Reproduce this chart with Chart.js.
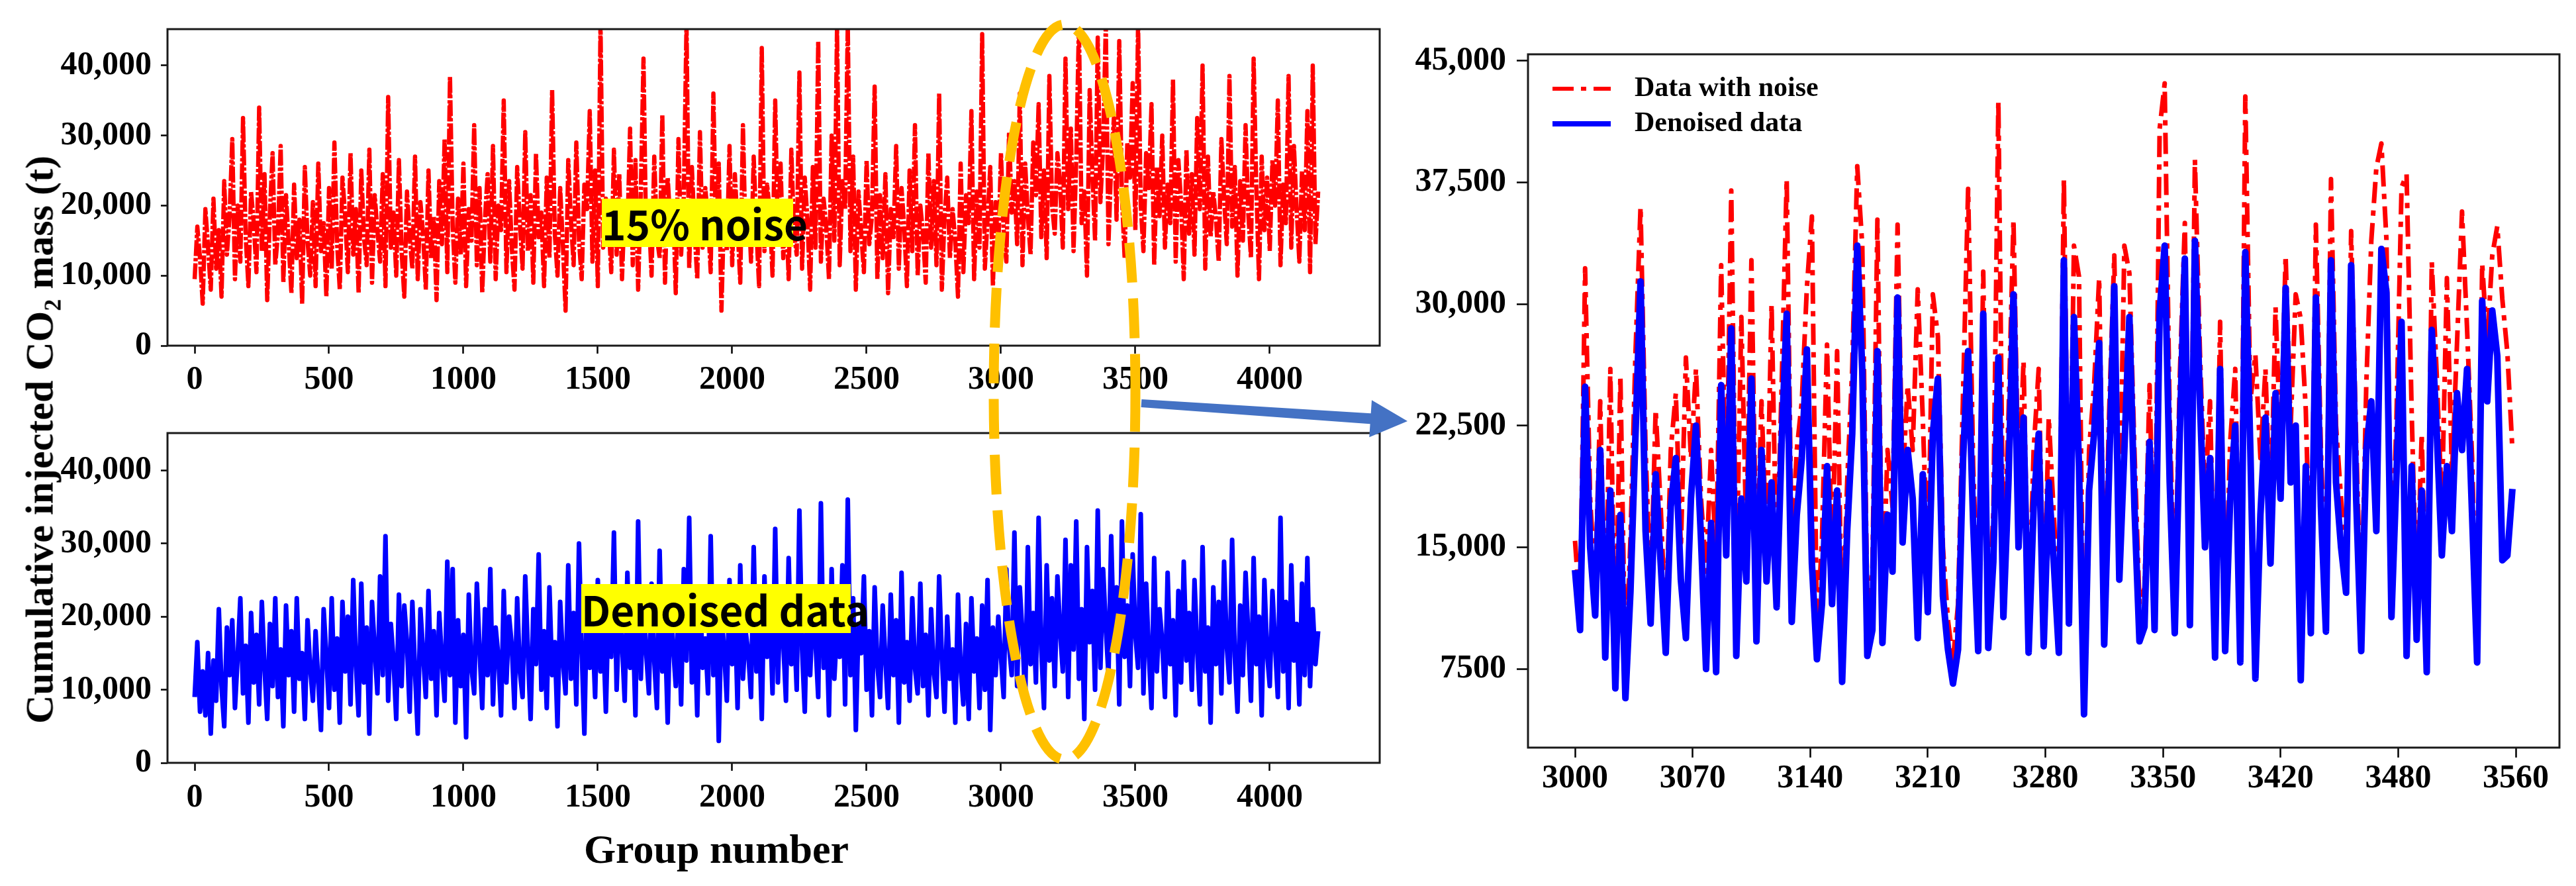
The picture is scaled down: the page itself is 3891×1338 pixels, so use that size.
<!DOCTYPE html>
<html>
<head>
<meta charset="utf-8">
<title>Cumulative injected CO2 mass - noisy vs denoised</title>
<script src="https://cdn.jsdelivr.net/npm/chart.js@4.4.1/dist/chart.umd.min.js"></script>
<style>
  html, body { margin: 0; padding: 0; background: #fff; }
  #page { position: relative; width: 3891px; height: 1338px; overflow: hidden; background: #fff; }
  canvas { position: absolute; }
  .tag {
    position: absolute; background: #ffff00; color: #000; text-align: center; white-space: nowrap;
    font-family: 'Noto Sans CJK SC', 'Noto Sans', sans-serif; font-weight: 700; font-size: 62px;
  }
  .axis-title {
    position: absolute; color: #000; white-space: nowrap; font-weight: 700;
    font-family: 'Liberation Serif', 'Times New Roman', serif;
  }
</style>
</head>
<body>
<div id="page">
  <canvas id="noisyChart" width="2100" height="620" style="left:0;top:0"></canvas>
  <canvas id="denoisedChart" width="2100" height="640" style="left:0;top:610px"></canvas>
  <canvas id="zoomChart" width="1781" height="1338" style="left:2110px;top:0"></canvas>
  <div class="tag" style="left:909px;top:300px;width:289px;height:73px;line-height:73px">15% noise</div>
  <div class="tag" style="left:878px;top:882px;width:407px;height:74px;line-height:74px">Denoised data</div>
  <div class="axis-title" style="left:60px;top:664px;font-size:60px;transform:translate(-50%,-50%) rotate(-90deg)">Cumulative injected CO₂ mass (t)</div>
  <div class="axis-title" style="left:1082px;top:1282px;font-size:62px;transform:translate(-50%,-50%)">Group number</div>
  <canvas id="overlay" width="3891" height="1338" style="left:0;top:0;pointer-events:none"></canvas>
</div>

<script>
// ---- data (tonnes) ----
// left panels: one value every 10 groups, groups 0..4180
const leftGroupStep = 10;
const noisyMass = [
  9500, 17000, 12500, 6000, 19500, 14000, 8000, 21000, 11000, 16500,
  7000, 23500, 13000, 18500, 29500, 9500, 20000, 12000, 32500, 15500,
  8500, 22000, 17500, 10500, 34000, 13500, 24500, 6500, 19000, 27500,
  11500, 16000, 28500, 9000, 21500, 14500, 7500, 23000, 12500, 18000,
  6000, 25500, 15000, 10000, 20500, 8500, 26000, 13500, 17500, 7000,
  22500, 11000, 29000, 14500, 8000, 24000, 18500, 10500, 27500, 13000,
  19500, 7500, 25000, 15500, 11500, 28000, 9000, 21500, 16500, 12000,
  24500, 8500, 35500, 14000, 19000, 10000, 26500, 13500, 7000, 22000,
  15500, 11000, 27000, 9500, 20500, 16000, 8000, 25000, 12500, 18500,
  6500, 23500, 14500, 29500, 10500, 38500, 17000, 9000, 21000, 13000,
  26000, 8500, 19500, 15000, 31500, 11500, 22500, 7500, 18000, 24500,
  12000, 28500, 9500, 20000, 16500, 35000, 10500, 23500, 14000, 8000,
  25500, 17500, 11000, 30500, 13500, 21500, 9000, 27500, 15500, 19000,
  8500, 24000, 12500, 36500, 16000, 10000, 22500, 14500, 5000, 26500,
  18000, 11500, 29000, 15000, 9500, 23000, 19500, 33500, 12000, 25000,
  8500, 46000, 14000, 21000, 17500, 10500, 28000, 13000, 24500, 9500,
  20500, 16000, 31000, 11500, 26500, 8000, 22000, 41000, 14500, 18500,
  10000, 27000, 15500, 12500, 33000, 9000, 24000, 17500, 20500, 7500,
  29500, 13000, 21500, 46000, 11000, 25500, 16500, 9500, 30500, 14000,
  22500, 18000, 10500, 36000, 15000, 26000, 5000, 20000, 13500, 28500,
  11500, 24500, 17000, 9000, 31500, 14500, 21000, 12000, 27000, 16500,
  8500, 42500, 13500, 23000, 19000, 10000, 35000, 15500, 26000, 12500,
  20500, 9500, 28000, 16000, 13000, 39000, 11000, 24000, 18000, 8000,
  25500, 14000, 43500, 12000, 21000, 17000, 9500, 30000, 15000, 45500,
  11500, 23500, 19500, 46000, 13500, 27000, 8000, 22000, 16000, 10500,
  26500, 14500, 18500, 37000, 9500, 21500, 12500, 24500, 7500, 19500,
  15500, 28500, 11000, 22500, 17000, 8500, 25000, 13500, 31500, 10000,
  20000, 16000, 9000, 27500, 14000, 23500, 11500, 36000, 8000, 18500,
  24000, 12500, 19500, 15000, 7000, 26000, 10500, 21500, 17500, 33500,
  9500, 22000, 14000, 44500, 11000, 18000, 25500, 8500, 20500, 13500,
  27500, 16500, 12000, 30500, 19000, 23500, 14500, 36000, 11500, 26000,
  18500, 13000, 29000, 21500, 34500, 15500, 25000, 12500, 38500, 20000,
  16000, 27500, 23000, 14000, 41000, 19500, 31000, 13500, 26500, 46000,
  17500, 22000, 10000, 36500, 24500, 15000, 44000, 20500, 28500, 46000,
  14500, 26000, 32500, 18000, 43500, 21500, 12500, 29000, 24000, 37500,
  16500, 46000, 20000, 13500, 27500, 22500, 34500, 11500, 25500, 18500,
  30000, 14000, 23000, 17500, 38000, 12000, 26500, 20500, 9500, 28000,
  16000, 24500, 13000, 32500, 19500, 40000, 11000, 27000, 15500, 22000,
  18000, 12000, 29500, 21000, 14500, 38500, 17000, 25500, 10000, 23500,
  15000, 31500, 19000, 12500, 41000, 22500, 9500, 27000, 16500, 24000,
  13500, 26500, 20000, 35000, 11500, 23000, 17500, 38500, 14000, 28500,
  19500, 12000, 25000, 16500, 33500, 10500, 40000, 14500, 22000
];
const denoisedMass = [
  9000, 16500, 7000, 12500, 6500, 15000, 4000, 14000, 8500, 21000,
  10500, 5000, 18500, 12000, 19500, 7500, 14500, 22500, 9500, 16000,
  5500, 20500, 11000, 17500, 8000, 22000, 13000, 6000, 19000, 10500,
  22500, 9000, 15500, 5000, 21500, 12000, 18000, 7000, 22500, 11500,
  15000, 6000, 19500, 13000, 8500, 18000, 11000, 4500, 21000, 14500,
  7500, 22500, 10000, 17000, 5500, 22000, 12500, 20000, 8000, 25000,
  13500, 6500, 24500, 11000, 18500, 4000, 22000, 15500, 9500, 25500,
  12000, 31000, 8500, 19000, 14000, 6000, 23000, 10500, 21500, 16500,
  7000, 22000, 12500, 4000, 21000, 15000, 9000, 23500, 11500, 18000,
  6500, 20500, 14000, 8500, 27500, 12000, 26500, 5500, 19500, 10500,
  17500, 3500, 23000, 13000, 9500, 24500, 15500, 7500, 21000, 12000,
  26500, 8000, 18500, 14500, 6500, 23500, 11000, 20000, 16000, 7500,
  22500, 12500, 9000, 25500, 15000, 6000, 21000, 13500, 28500, 10000,
  18000, 7500, 24000, 12000, 16500, 5000, 22000, 14000, 9500, 27000,
  11500, 20500, 8000, 30000, 15500, 4000, 23500, 13000, 19000, 9000,
  25000, 12500, 18000, 7000, 22000, 14500, 31500, 10000, 21000, 16500,
  8500, 26000, 13000, 19500, 6500, 33000, 11500, 22500, 15000, 9500,
  24500, 14000, 7500, 29000, 12500, 18500, 5500, 23000, 16000, 10500,
  21000, 8000, 26500, 14000, 33500, 11000, 19500, 6500, 24000, 13000,
  17000, 9500, 31000, 12000, 22000, 3000, 20500, 15500, 8500, 25000,
  13500, 21500, 7500, 27000, 11500, 18000, 15000, 9000, 29500, 12500,
  19000, 6000, 25500, 14500, 21000, 9500, 32000, 11000, 23500, 16500,
  8500, 28000, 13500, 19500, 10000, 34500, 15500, 7000, 24000, 12000,
  21500, 16500, 9000, 35500, 13000, 20000, 6500, 26500, 11500, 18500,
  14500, 27000, 8000, 36000, 12000, 22500, 4500, 19000, 15000, 25500,
  10000, 18000, 6500, 24000, 13500, 9000, 21500, 14000, 7500, 23000,
  12000, 19500, 5500, 26000, 11000, 16500, 8500, 22500, 13000, 9500,
  24500, 10500, 17500, 6500, 21000, 12500, 9000, 25500, 14500, 7000,
  20000, 11500, 15500, 5500, 23000, 13000, 8000, 19000, 6000, 22500,
  12500, 17000, 7500, 21500, 10000, 25000, 4500, 18500, 12000, 20000,
  14500, 9000, 26500, 16000, 12000, 31500, 10500, 24000, 17500, 8500,
  29500, 13500, 20500, 11000, 33500, 15500, 7500, 27000, 14000, 22500,
  10500, 25500, 18000, 12500, 30500, 9000, 27000, 15500, 33000, 11500,
  21000, 6000, 29500, 16500, 23500, 10000, 34500, 13000, 26500, 18500,
  12000, 31000, 16000, 24000, 8000, 33000, 14500, 21500, 10500, 28500,
  17500, 13000, 34000, 9500, 24500, 15000, 7500, 28000, 12500, 21000,
  16500, 9000, 26000, 13500, 19500, 6500, 23500, 11000, 27500, 14000,
  20500, 10000, 25000, 15500, 8000, 29500, 12500, 18500, 5500, 24000,
  13500, 22000, 9500, 27500, 16000, 11000, 30500, 14500, 7000, 21500,
  12000, 26000, 17500, 8500, 28000, 13500, 20000, 6500, 25000, 15000,
  10500, 23500, 16000, 9000, 33500, 12500, 22000, 7500, 27000, 14000,
  19000, 8000, 24500, 12000, 28000, 10500, 21000, 13500, 18000
];

// right panel: one value every 3 groups, groups 3000..3558
const zoomStart = 3000;
const zoomStep = 3;
const zoomNoisy = [
  15400, 11000, 32200, 18000, 12500, 24000, 9500, 26000, 7800, 25600,
  7200, 15500, 27000, 36000, 21000, 12000, 23500, 17500, 9800, 21000,
  24500, 15000, 26700, 20500, 26000, 18000, 13500, 21000, 14000, 32400,
  17000, 37000, 12500, 29200, 15500, 32700, 13000, 24000, 15000, 30000,
  13500, 25000, 37700, 14500, 21000, 24000, 31000, 35400, 9500, 15500,
  27500, 14000, 27100, 9000, 19000, 26000, 38500, 33600, 11000, 13500,
  35200, 11000, 21000, 17500, 34900, 19000, 25000, 21000, 30900, 23000,
  13500, 30600, 28000, 15000, 10500, 8000, 11500, 24500, 37100, 20000,
  11000, 32000, 11000, 17000, 42500, 13500, 23000, 35200, 18500, 26500,
  10000, 21000, 26000, 10500, 23000, 17000, 11000, 37700, 13000, 33600,
  31700, 5000, 21000, 25000, 31600, 11500, 23500, 33000, 15500, 33600,
  31900, 21000, 11500, 12500, 25000, 12000, 40800, 43600, 23000, 11500,
  25500, 35000, 13000, 38900, 27000, 18000, 24000, 10000, 28900, 10500,
  21500, 26000, 9500, 42800, 24000, 26900, 20500, 26000, 16500, 29800,
  21000, 33000, 22500, 30600, 29100, 23500, 11500, 34900, 21000, 12000,
  37700, 22500, 18000, 14500, 34500, 21500, 10500, 25000, 33900, 38400,
  39900, 34000, 13000, 23000, 37200, 38000, 23500, 11500, 22000, 9500,
  32600, 25500, 17500, 31600, 19500, 27500, 35700, 28500, 20500, 8500,
  32500, 27500, 33000, 34800, 30300, 27000, 21000
];
const zoomDenoised = [
  13600, 9900, 24900, 15000, 10800, 21000, 8200, 18500, 6300, 17000,
  5700, 12300, 22000, 31400, 16000, 10300, 19500, 14000, 8500, 17500,
  20500, 13000, 9400, 18000, 22500, 15500, 7500, 16500, 7300, 25000,
  14500, 28500, 8300, 18000, 12900, 25400, 9200, 21000, 12900, 19000,
  11300, 21500, 29400, 10400, 17000, 20500, 27200, 14000, 8100, 11500,
  20000, 11500, 18500, 6700, 16000, 22000, 33600, 25900, 8300, 9900,
  27100, 9100, 17000, 13500, 30400, 15300, 21000, 18000, 9400, 19500,
  11000, 22000, 25400, 12000, 8700, 6600, 8700, 20500, 27100, 16500,
  8600, 29400, 8800, 14100, 26700, 10700, 19000, 30600, 15000, 23000,
  8500, 17500, 22000, 8900, 19000, 14000, 8500, 32700, 10300, 29200,
  20000, 4700, 18500, 22000, 27600, 9000, 20000, 31100, 13000, 21000,
  29200, 17500, 9200, 10100, 21500, 9900, 29500, 33600, 19000, 9700,
  22000, 32800, 10200, 33900, 24000, 15000, 20500, 8200, 26000, 8600,
  18000, 22500, 7900, 33200, 21000, 6900, 17000, 23000, 14000, 24500,
  18000, 31000, 19000, 22500, 6800, 20000, 9700, 30400, 17500, 9800,
  32700, 19000, 15000, 12200, 32400, 18000, 8600, 21000, 24000, 16000,
  33400, 30700, 10700, 19500, 28900, 8300, 20000, 9300, 18500, 7300,
  28400, 22000, 14500, 20000, 16000, 24500, 21000, 26000, 17000, 7900,
  30200, 24000, 29600, 26800, 14200, 14500, 18600
];

// ticks
const leftXTicks = [0, 500, 1000, 1500, 2000, 2500, 3000, 3500, 4000];
const leftXLabels = ['0', '500', '1000', '1500', '2000', '2500', '3000', '3500', '4000'];
const leftYTicks = [0, 10000, 20000, 30000, 40000];
const leftYLabels = ['0', '10,000', '20,000', '30,000', '40,000'];
const zoomXTicks = [3000, 3070, 3140, 3210, 3280, 3350, 3420, 3490, 3560];
const zoomXLabels = ['3000', '3070', '3140', '3210', '3280', '3350', '3420', '3480', '3560'];
const zoomYTicks = [7500, 15000, 22500, 30000, 37500, 45000];
const zoomYLabels = ['7500', '15,000', '22,500', '30,000', '37,500', '45,000'];

const leftGroups = noisyMass.map((_, i) => i * leftGroupStep);
const zoomGroups = zoomNoisy.map((_, i) => zoomStart + i * zoomStep);

// ---- helpers ----
const serif = "'Liberation Serif', 'Times New Roman', Times, serif";
const tickFont = { family: serif, size: 50, weight: 'bold' };

const fixedTicks = values => scale => { scale.ticks = values.map(v => ({ value: v })); };
const labelFor = (values, labels) => v => {
  const i = values.indexOf(v);
  return i < 0 ? '' : labels[i];
};
const toPoints = (xs, ys) => ys.map((y, i) => ({ x: xs[i], y: y }));

// box around the plot area, drawn over the lines like matplotlib spines
const frame = {
  id: 'frame',
  afterDatasetsDraw(chart) {
    const { ctx, chartArea: a } = chart;
    ctx.save();
    ctx.lineWidth = 3;
    ctx.strokeStyle = '#1a1a1a';
    ctx.strokeRect(a.left, a.top, a.right - a.left, a.bottom - a.top);
    ctx.restore();
  }
};

// legend inside the zoom panel, built from the datasets
const insideLegend = {
  id: 'insideLegend',
  afterDraw(chart, args, opts) {
    const { ctx, chartArea } = chart;
    ctx.save();
    chart.data.datasets.forEach((ds, i) => {
      const x0 = chartArea.left + opts.left;
      const y = chartArea.top + opts.top + i * opts.rowGap;
      ctx.beginPath();
      ctx.setLineDash(ds.borderDash || []);
      ctx.lineWidth = opts.lineWidths[i];
      ctx.strokeStyle = ds.borderColor;
      ctx.moveTo(x0, y);
      ctx.lineTo(x0 + opts.lineLength, y);
      ctx.stroke();
      ctx.setLineDash([]);
      ctx.fillStyle = '#000';
      ctx.font = opts.font;
      ctx.textBaseline = 'middle';
      ctx.fillText(ds.label, x0 + opts.lineLength + opts.gap, y);
    });
    ctx.restore();
  }
};

function axisX(min, max, ticks, labels, height, tickLen, pad) {
  return {
    type: 'linear', min: min, max: max,
    afterBuildTicks: fixedTicks(ticks),
    afterFit: s => { s.height = height; },
    ticks: { font: tickFont, color: '#000', padding: pad, maxRotation: 0, autoSkip: false, callback: labelFor(ticks, labels) },
    grid: { drawOnChartArea: false, tickLength: tickLen, tickWidth: 2.5, tickColor: '#000' },
    border: { display: false }
  };
}
function axisY(min, max, ticks, labels, width, tickLen, pad) {
  return {
    min: min, max: max,
    afterBuildTicks: fixedTicks(ticks),
    afterFit: s => { s.width = width; },
    ticks: { font: tickFont, color: '#000', padding: pad, autoSkip: false, callback: labelFor(ticks, labels) },
    grid: { drawOnChartArea: false, tickLength: tickLen, tickWidth: 2.5, tickColor: '#000' },
    border: { display: false }
  };
}

function leftChart(id, values, color, width, dash, yMax, xHeight, xPad) {
  return new Chart(document.getElementById(id), {
    type: 'line',
    data: {
      datasets: [{
        data: toPoints(leftGroups, values),
        borderColor: color, borderWidth: width, borderDash: dash,
        borderJoinStyle: 'round', pointRadius: 0, tension: 0
      }]
    },
    options: {
      responsive: false, animation: false, events: [],
      layout: { padding: { top: 31, right: 16, left: 0, bottom: 0 } },
      plugins: { legend: { display: false }, tooltip: { enabled: false } },
      scales: {
        x: axisX(-101, 4409, leftXTicks, leftXLabels, xHeight, 12, xPad),
        y: axisY(0, yMax, leftYTicks, leftYLabels, 253, 10, 14)
      }
    },
    plugins: [frame]
  });
}

const noisyChart = leftChart('noisyChart', noisyMass, '#ff0000', 6.5, [24, 3, 5, 3], 45200, 98, 10);
const denoisedChart = leftChart('denoisedChart', denoisedMass, '#0000ff', 7, [], 45100, 98, 11);

const zoomChart = new Chart(document.getElementById('zoomChart'), {
  type: 'line',
  data: {
    datasets: [
      {
        label: 'Data with noise',
        data: toPoints(zoomGroups, zoomNoisy),
        borderColor: '#ff0000', borderWidth: 7, borderDash: [32, 11, 8, 11],
        borderJoinStyle: 'round', pointRadius: 0, tension: 0, order: 1
      },
      {
        label: 'Denoised data',
        data: toPoints(zoomGroups, zoomDenoised),
        borderColor: '#0000ff', borderWidth: 10,
        borderJoinStyle: 'round', pointRadius: 0, tension: 0, order: 0
      }
    ]
  },
  options: {
    responsive: false, animation: false, events: [],
    layout: { padding: { top: 82, right: 25, left: 0, bottom: 0 } },
    plugins: {
      legend: { display: false }, tooltip: { enabled: false },
      insideLegend: { left: 37, top: 52, rowGap: 53, lineLength: 88, gap: 36, lineWidths: [6, 8], font: 'bold 42px ' + serif }
    },
    scales: {
      x: axisX(2972, 3586, zoomXTicks, zoomXLabels, 209, 15, 2),
      y: axisY(2650, 45400, zoomYTicks, zoomYLabels, 198, 17, 16)
    }
  },
  plugins: [frame, insideLegend]
});

// ---- callout: dashed ellipse over groups ~3000-3500 and arrow to the zoom panel ----
const o = document.getElementById('overlay').getContext('2d');
o.save();
o.strokeStyle = '#ffc000';
o.lineWidth = 15;
o.setLineDash([60, 24]);
o.beginPath();
o.ellipse(1608, 592, 107, 555, 0, 0, Math.PI * 2);
o.stroke();
o.restore();

(function drawArrow(tail, tip) {
  const dx = tip.x - tail.x, dy = tip.y - tail.y;
  const len = Math.hypot(dx, dy);
  const ux = dx / len, uy = dy / len, nx = -uy, ny = ux;
  const headLen = 56, headHalf = 28, tailHalf = 6, baseHalf = 8;
  const bx = tip.x - ux * headLen, by = tip.y - uy * headLen;
  o.save();
  o.fillStyle = '#4472c4';
  o.beginPath();
  o.moveTo(tail.x + nx * tailHalf, tail.y + ny * tailHalf);
  o.lineTo(bx + nx * baseHalf, by + ny * baseHalf);
  o.lineTo(bx + nx * headHalf, by + ny * headHalf);
  o.lineTo(tip.x, tip.y);
  o.lineTo(bx - nx * headHalf, by - ny * headHalf);
  o.lineTo(bx - nx * baseHalf, by - ny * baseHalf);
  o.lineTo(tail.x - nx * tailHalf, tail.y - ny * tailHalf);
  o.closePath();
  o.fill();
  o.restore();
})({ x: 1724, y: 609 }, { x: 2126, y: 636 });
</script>
</body>
</html>
